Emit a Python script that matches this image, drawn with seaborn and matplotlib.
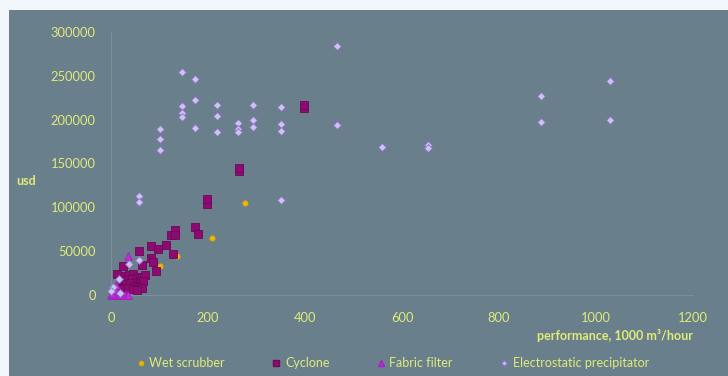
import numpy as np
import pandas as pd
import seaborn as sns
import matplotlib
matplotlib.use("Agg")
import matplotlib.pyplot as plt
from matplotlib.lines import Line2D
from matplotlib.patches import Rectangle

# ---------------- data ----------------
wet_x = [277, 208, 137, 102]
wet_y = [105000, 65000, 44000, 33000]

cyc_x = [398, 398, 264, 264, 198, 198, 174, 179, 132, 124, 132, 114, 82, 97, 57, 127,
         82, 87, 63, 25, 92, 12,
         29, 38, 46, 54, 63, 70, 25, 34, 43, 51, 60, 67, 22, 31, 39, 47, 56, 63,
         17, 25, 36, 45, 53]
cyc_y = [213000, 217000, 141000, 145000, 104000, 109000, 77000, 70000, 74500, 68500, 68500,
         56700, 55500, 52000, 50000, 46800, 41900, 38000, 34200, 33100, 27700, 23600,
         21700, 22800, 24000, 20900, 19000, 22800, 16300, 17100, 17900, 15200, 14000, 16300,
         11400, 12500, 13300, 10300, 9500, 7600, 7600, 6500, 7600, 6500, 5700]

fab_x = [36, 0, 4, 8, 12, 16, 20, 24, 28, 32, 36, 2, 5, 8, 10]
fab_y = [44500, 0, 0, 500, 0, 0, 0, 0, 0, 0, 0, 2500, 5500, 8500, 11000]

esp_x = [465, 146, 174, 174, 146, 146, 146, 219, 219, 219, 293, 293, 293, 262, 262, 262,
         351, 351, 351, 466, 559, 653, 653, 887, 887, 1028, 1028, 102, 102, 102, 174,
         58, 58, 351, 38, 58, 17, 5, 1, 18]
esp_y = [284000, 254400, 246700, 222000, 216000, 208000, 203400, 216400, 203800, 186300,
         216700, 200000, 191600, 195800, 189700, 186300, 214800, 194700, 187400, 193900,
         169200, 171100, 168000, 226700, 197700, 244500, 200000, 189400, 178300, 165800,
         190100, 112600, 106400, 108700, 35400, 39900, 17900, 8800, 4900, 1900]

series_names = ["Wet scrubber", "Cyclone", "Fabric filter", "Electrostatic precipitator"]
x_ticks = [0, 200, 400, 600, 800, 1000, 1200]
y_ticks = [0, 50000, 100000, 150000, 200000, 250000, 300000]

df = pd.concat([
    pd.DataFrame({"x": wet_x, "y": wet_y, "type": series_names[0]}),
    pd.DataFrame({"x": cyc_x, "y": cyc_y, "type": series_names[1]}),
    pd.DataFrame({"x": fab_x, "y": fab_y, "type": series_names[2]}),
    pd.DataFrame({"x": esp_x, "y": esp_y, "type": series_names[3]}),
], ignore_index=True)

# ---------------- style ----------------
slate = "#6a7f8c"
txt = "#e0eb78"
styles = {
    "Wet scrubber": dict(marker="o", color="#f2b705", edgecolor="#e0a800", s=14),
    "Cyclone": dict(marker="s", color="#8c0b72", edgecolor="#6e0858", s=34),
    "Fabric filter": dict(marker="^", color="#c030d8", edgecolor="#a020c0", s=30),
    "Electrostatic precipitator": dict(marker="D", color="#cfc2f2", edgecolor="#8874c0", s=16),
}

sns.set_theme(style="white")
plt.rcParams["font.family"] = ["Lato", "DejaVu Sans"]

fig = plt.figure(figsize=(7.28, 3.76), dpi=100)
fig.patch.set_facecolor(slate)
# light frame strips at the left and top edges
fig.patches.append(Rectangle((0, 0), 9 / 728, 1, transform=fig.transFigure,
                             facecolor="#f3f6fa", edgecolor="none", zorder=-5))
fig.patches.append(Rectangle((0, (376 - 10) / 376), 1, 10 / 376, transform=fig.transFigure,
                             facecolor="#f3f6fa", edgecolor="none", zorder=-5))

ax = fig.add_axes([111 / 728, (376 - 295) / 376, (693 - 111) / 728, (295 - 32) / 376])
ax.set_facecolor(slate)

for name in series_names:
    st = styles[name]
    sub = df[df["type"] == name]
    sns.scatterplot(data=sub, x="x", y="y", ax=ax, marker=st["marker"], color=st["color"],
                    edgecolor=st["edgecolor"], linewidth=0.6, s=st["s"], clip_on=False,
                    legend=False, zorder=3)

ax.set_xlim(0, 1200)
ax.set_ylim(0, 300000)
ax.set_xticks(x_ticks)
ax.set_yticks(y_ticks)
ax.set_xticklabels([str(v) for v in x_ticks])
ax.set_yticklabels([str(v) for v in y_ticks])
ax.tick_params(axis="x", colors=txt, labelsize=9.3, length=0, pad=12)
ax.tick_params(axis="y", colors=txt, labelsize=9.3, length=0, pad=11)

for side in ["top", "right"]:
    ax.spines[side].set_visible(False)
for side in ["left", "bottom"]:
    ax.spines[side].set_color("#7b8f9a")
    ax.spines[side].set_linewidth(0.8)

ax.set_xlabel("performance, 1000 m\u00b3/hour", color=txt, fontsize=9, fontweight="bold",
              loc="right", labelpad=4)
ax.set_ylabel("usd", color=txt, fontsize=9, fontweight="bold", rotation=0)
ax.yaxis.set_label_coords(-0.145, 0.433)
ax.yaxis.label.set_verticalalignment("center")
ax.yaxis.label.set_horizontalalignment("center")

handles = []
for name in series_names:
    st = styles[name]
    handles.append(Line2D([0], [0], linestyle="none", marker=st["marker"],
                          markerfacecolor=st["color"], markeredgecolor=st["edgecolor"],
                          markersize={"o": 3, "s": 4.5, "^": 5, "D": 3}[st["marker"]],
                          label=name))
leg = fig.legend(handles=handles, loc="center", bbox_to_anchor=(393 / 728, (376 - 363) / 376),
                 ncol=4, frameon=False, fontsize=9, handlelength=0.6, handletextpad=0.4,
                 columnspacing=3.8)
for t in leg.get_texts():
    t.set_color(txt)

fig.savefig("out.png", dpi=100, facecolor=fig.get_facecolor())
